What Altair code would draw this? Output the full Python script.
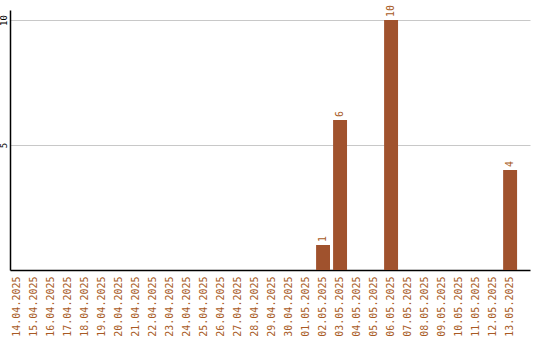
import altair as alt
import pandas as pd

# Daily counts, 14.04.2025 - 13.05.2025
dates = [
    "14.04.2025", "15.04.2025", "16.04.2025", "17.04.2025", "18.04.2025",
    "19.04.2025", "20.04.2025", "21.04.2025", "22.04.2025", "23.04.2025",
    "24.04.2025", "25.04.2025", "26.04.2025", "27.04.2025", "28.04.2025",
    "29.04.2025", "30.04.2025", "01.05.2025", "02.05.2025", "03.05.2025",
    "04.05.2025", "05.05.2025", "06.05.2025", "07.05.2025", "08.05.2025",
    "09.05.2025", "10.05.2025", "11.05.2025", "12.05.2025", "13.05.2025",
]
counts = [
    0, 0, 0, 0, 0,
    0, 0, 0, 0, 0,
    0, 0, 0, 0, 0,
    0, 0, 0, 1, 6,
    0, 0, 10, 0, 0,
    0, 0, 0, 0, 4,
]
y_ticks = [5, 10]

df = pd.DataFrame({"date": dates, "count": counts})
df["label"] = [str(c) if c > 0 else "" for c in counts]

BROWN = "#a0522d"
TEXT_BROWN = "#a85a25"
FONT = "DejaVu Sans Mono"

x_enc = alt.X(
    "date:N",
    sort=dates,
    title=None,
    scale=alt.Scale(paddingInner=0.18, paddingOuter=0.38, align=0),
    axis=alt.Axis(
        labelAngle=-90,
        labelAlign="right",
        labelBaseline="middle",
        labelFont=FONT,
        labelFontSize=10,
        labelColor=TEXT_BROWN,
        labelPadding=6,
        ticks=False,
        domainColor="black",
        domainWidth=1.5,
        grid=False,
        labelOverlap=False,
    ),
)
y_enc = alt.Y(
    "count:Q",
    title=None,
    scale=alt.Scale(domain=[0, 10.4], nice=False),
    axis=alt.Axis(
        values=y_ticks,
        labelAngle=-90,
        labelAlign="center",
        labelBaseline="bottom",
        labelFont=FONT,
        labelFontSize=9,
        labelColor="black",
        labelPadding=2,
        ticks=False,
        domainColor="black",
        domainWidth=1.5,
        grid=True,
        gridColor="#c8c8c8",
        gridWidth=1,
    ),
)

bars = alt.Chart(df).mark_bar(color=BROWN).encode(x=x_enc, y=y_enc)

labels = alt.Chart(df).mark_text(
    angle=270,
    align="left",
    baseline="middle",
    dx=3,
    font=FONT,
    fontSize=10,
    color=TEXT_BROWN,
).encode(x=alt.X("date:N", sort=dates), y=alt.Y("count:Q"), text="label:N")

chart = (
    alt.layer(bars, labels)
    .properties(
        width=520,
        height=260,
        autosize=alt.AutoSizeParams(type="none"),
        padding={"left": 10, "top": 10, "right": 10, "bottom": 70},
        background="white",
    )
    .configure_view(stroke=None)
)

chart.save("out.html", embed_options={"renderer": "svg", "actions": False})
